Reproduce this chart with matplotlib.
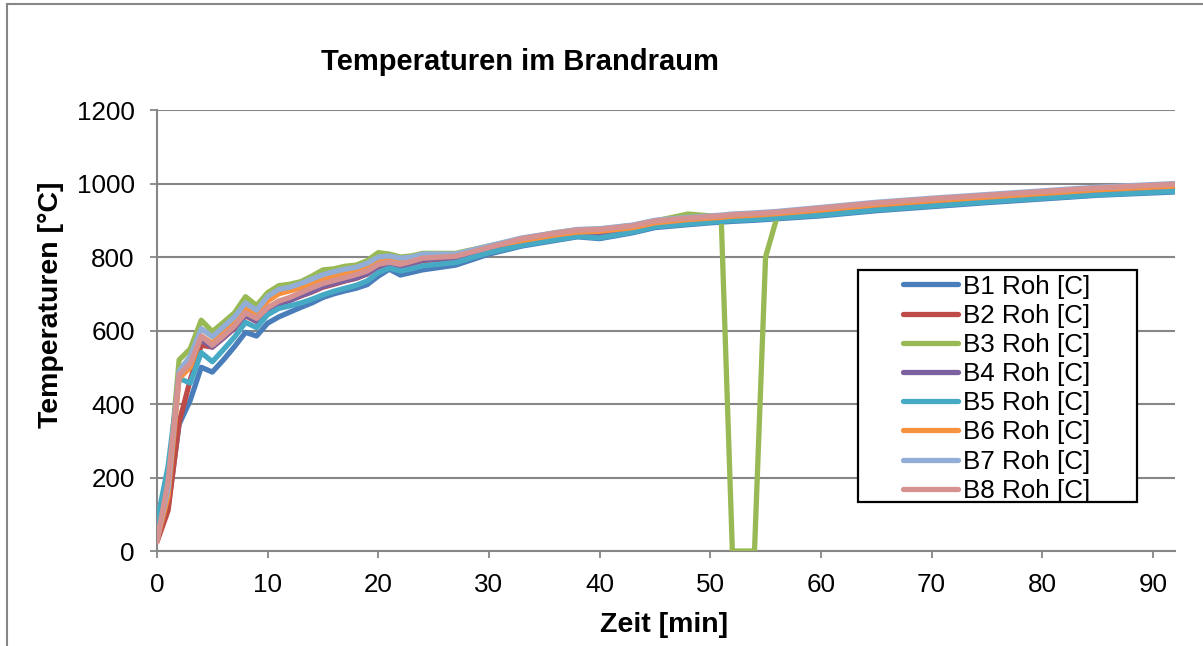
import matplotlib

matplotlib.use("Agg")
import matplotlib.pyplot as plt
from matplotlib.patches import Rectangle

plt.rcParams["font.family"] = ["Liberation Sans", "DejaVu Sans"]

# Zeit [min]
minutes = list(range(0, 25)) + [27, 30, 33, 36, 38, 40, 43, 45, 48, 50, 51, 52,
                                54, 55, 56, 60, 65, 70, 75, 80, 85, 92]

b1 = [30, 120, 345, 410, 500, 487, 520, 556, 595, 585, 620, 637, 650, 663, 675,
      690, 700, 708, 715, 725, 748, 767, 751, 758, 765, 778, 808,
      830, 845, 855, 850, 866, 880, 888, 893, 895, 897, 900, 902, 904, 912,
      926, 937, 948, 958, 968, 977]
b2 = [25, 110, 350, 465, 560, 555, 580, 606, 640, 625, 655, 672, 682, 694, 705,
      718, 726, 735, 742, 754, 773, 780, 773, 782, 790, 797, 820,
      837, 851, 860, 860, 873, 887, 896, 901, 903, 906, 909, 911, 913, 923,
      937, 947, 957, 967, 977, 986]
b3 = [35, 180, 520, 550, 628, 597, 622, 648, 692, 668, 703, 722, 726, 733, 748,
      765, 768, 775, 778, 790, 812, 808, 800, 803, 810, 810, 830,
      850, 866, 874, 876, 886, 898, 917, 912, 900, 0, 0, 800, 905, 932,
      946, 957, 967, 977, 987, 996]
b4 = [30, 160, 485, 515, 575, 555, 580, 608, 642, 625, 655, 672, 682, 695, 706,
      720, 728, 736, 743, 755, 775, 782, 775, 783, 792, 798, 822,
      838, 852, 860, 858, 872, 886, 895, 900, 902, 905, 908, 910, 912, 922,
      936, 946, 956, 966, 976, 985]
b5 = [80, 230, 470, 457, 540, 515, 548, 582, 622, 608, 643, 660, 667, 675, 685,
      697, 707, 715, 723, 735, 758, 770, 762, 768, 776, 785, 812,
      832, 847, 856, 852, 868, 882, 890, 895, 897, 899, 902, 904, 906, 914,
      928, 939, 950, 960, 969, 979]
b6 = [30, 150, 470, 500, 585, 565, 600, 625, 660, 640, 680, 700, 708, 716, 728,
      740, 748, 755, 762, 772, 790, 795, 788, 795, 805, 805, 828,
      845, 860, 868, 870, 880, 893, 902, 906, 908, 911, 914, 916, 918, 928,
      942, 953, 963, 973, 983, 993]
b7 = [35, 170, 490, 530, 605, 583, 610, 637, 675, 655, 693, 712, 718, 728, 740,
      752, 760, 767, 772, 783, 800, 803, 797, 800, 808, 808, 830,
      852, 866, 875, 877, 887, 900, 908, 912, 914, 917, 920, 922, 924, 935,
      949, 960, 970, 980, 990, 1000]
b8 = [25, 190, 480, 510, 585, 560, 585, 612, 648, 633, 662, 680, 690, 703, 716,
      728, 736, 744, 752, 762, 780, 786, 780, 788, 797, 802, 826,
      850, 865, 873, 875, 885, 898, 906, 910, 912, 915, 918, 920, 922, 933,
      947, 958, 968, 978, 988, 998]

series = [b1, b2, b3, b4, b5, b6, b7, b8]
labels = [f"B{i} Roh [C]" for i in range(1, 9)]
colors = ["#4A7EBB", "#BE4B48", "#98B954", "#7D60A0",
          "#46AAC5", "#F69240", "#93AED6", "#D59291"]

yticks = [0, 200, 400, 600, 800, 1000, 1200]
xticks = [0, 10, 20, 30, 40, 50, 60, 70, 80, 90]

GRAY = "#868686"


def main():
    fig = plt.figure(figsize=(12.03, 6.46), dpi=100)

    # outer chart frame
    fig.patches.append(Rectangle((0.0058, -0.5), 2, 0.9938 + 0.5, transform=fig.transFigure,
                                 fill=False, edgecolor=GRAY, linewidth=1.5))

    ax = fig.add_axes([0.1305, 0.147, 0.9767 - 0.1305, 0.8297 - 0.147])

    handles = []
    for values, label, color in zip(series, labels, colors):
        (line,) = ax.plot(minutes, values, color=color, linewidth=3.8, label=label,
                          solid_joinstyle="round", solid_capstyle="round", zorder=3)
        handles.append(line)

    ax.set_xlim(0, 92)
    ax.set_ylim(0, 1200)
    ax.set_xticks(xticks)
    ax.set_yticks(yticks)
    ax.tick_params(axis="both", labelsize=18.7, length=5, width=1.3, color=GRAY, pad=11)
    ax.yaxis.grid(True, color=GRAY, linewidth=1.5)
    ax.set_axisbelow(True)

    for side in ["top", "right"]:
        ax.spines[side].set_visible(False)
    for side in ["left", "bottom"]:
        ax.spines[side].set_color(GRAY)
        ax.spines[side].set_linewidth(1.5)

    # legend box
    ax.add_patch(Rectangle((0.6886, 0.111), 0.2741, 0.526, transform=ax.transAxes,
                           facecolor="white", edgecolor="black", linewidth=1.6, zorder=5))
    leg = ax.legend(handles=handles, loc="upper left", bbox_to_anchor=(0.7328, 0.6270),
                    frameon=False, fontsize=18.7, borderpad=0, borderaxespad=0,
                    labelspacing=0.2, handlelength=2.1, handletextpad=0.2)
    leg.set_zorder(6)
    for h in leg.get_lines():
        h.set_solid_capstyle("round")

    fig.text(0.4323, 0.904, "Temperaturen im Brandraum", fontsize=21,
             fontweight="bold", ha="center", va="center")
    fig.text(0.552, 0.0325, "Zeit [min]", fontsize=20.5, fontweight="bold",
             ha="center", va="center")
    fig.text(0.0425, 0.5279, "Temperaturen [°C]", fontsize=20.5, fontweight="bold",
             ha="center", va="center", rotation=90)

    fig.savefig("out.png", dpi=100)


if __name__ == "__main__":
    main()
